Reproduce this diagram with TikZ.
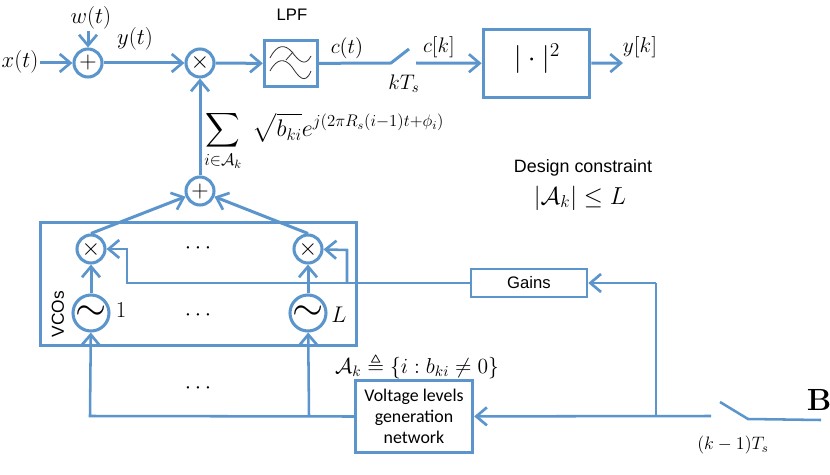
\RequirePackage{fix-cm}
\documentclass[tikz,border=0pt]{standalone}
\usepackage{amsmath,amssymb}
\usepackage[no-math]{fontspec}
\setmainfont{Liberation Sans}
\newfontfamily\calib{Carlito}
\usetikzlibrary{arrows.meta}
\definecolor{bl}{HTML}{5B95CC}
\newcommand{\fs}[1]{\fontsize{#1}{#1}\selectfont}
\tikzset{
 wire/.style={draw=bl,line width=2.25pt,line join=miter},
 thin wire/.style={draw=bl,line width=1.9pt},
 arr/.style={-{Straight Barb[length=8pt,width=13.5pt,line width=2pt]}},
 circ/.style={circle,draw=bl,line width=2.3pt,inner sep=0pt,fill=white},
 opc/.style={circ,minimum size=21pt},
 vco/.style={circ,minimum size=27pt},
 fbox/.style={draw=bl,line width=2.25pt,inner sep=0pt,fill=white},
 tbox/.style={draw=bl,line width=1.9pt,inner sep=0pt,fill=white},
 lab/.style={inner sep=0pt,font=\fs{17}},
}
\begin{document}
\begin{tikzpicture}[x=0.75pt,y=-0.75pt]
\useasboundingbox (0,0) rectangle (830,474);
% VCO frame
\node[fbox,fill=none,minimum width=237pt,minimum height=92.25pt] (frame) at (198,283.5) {};
% ops
\node[opc] (add1) at (88,63) {\fs{18}$+$};
\node[opc] (mix) at (200,63) {\fs{18}$\times$};
\node[opc] (add2) at (200,191) {\fs{18}$+$};
\node[opc] (m1) at (91,249) {\fs{18}$\times$};
\node[opc] (m2) at (308,249) {\fs{18}$\times$};
\node[vco] (v1) at (91,313) {\fs{30}$\sim$};
\node[vco] (v2) at (308,313) {\fs{30}$\sim$};
% boxes
\node[fbox,minimum width=40pt,minimum height=35pt] (lpf) at (291,63.5) {};
\node[fbox,minimum width=80pt,minimum height=51.5pt] (abs) at (536.5,63.5) {};
\node[tbox,minimum width=87pt,minimum height=21pt] (gains) at (529,283) {\fs{12.5}Gains};
\node[fbox,minimum width=88pt,minimum height=53.5pt,align=center,font=\calib\fs{13.4}] (volt) at (414,416.5) {Voltage levels\\[2.5pt]generation\\[2.5pt]network};
% LPF icon
\draw[black!80,line width=0.6pt] (270,58) .. controls (277,44) and (285,44) .. (292,52) .. controls (298,60) and (305,68) .. (311,56);
\draw[black!80,line width=0.6pt] (270,71) .. controls (277,58) and (285,58) .. (292,67) .. controls (298,76) and (305,86) .. (311,71);
\draw[black!80,line width=0.6pt] (286,60) -- (293,52);
% coordinates
\coordinate (xin) at (40,63);
\coordinate (win) at (88,31);
\coordinate (sw1a) at (391,63);
\coordinate (sw1b) at (409,49);
\coordinate (sw1c) at (416,63);
\coordinate (yout) at (623,63);
\coordinate (g1) at (127,283);
\coordinate (g1up) at (127,249);
\coordinate (g2) at (347,283);
\coordinate (g2up) at (347,250);
\coordinate (bj) at (656,416);
\coordinate (bgains) at (656,283);
\coordinate (sw2a) at (711,416);
\coordinate (sw2b) at (720,402);
\coordinate (sw2c) at (748,419);
\coordinate (sw2d) at (821,420);
\coordinate (lo1) at (90,416);
\coordinate (lo2) at (309,416);
% connectors
\draw[wire,arr] (xin) -- (add1);
\draw[wire,arr] (win) -- (add1);
\draw[wire,arr] (add1) -- (mix);
\draw[wire,arr] (mix) -- (lpf);
\draw[wire] (lpf) -- (sw1a) -- (sw1b);
\draw[wire,arr] (sw1c) -- (abs);
\draw[wire,arr] (abs) -- (yout);
\draw[wire,arr] (add2) -- (mix);
\draw[wire,arr] (m1.north) -- (add2);
\draw[wire,arr] (m2.north) -- (add2);
\draw[wire,arr] (v1) -- (m1);
\draw[wire,arr] (v2) -- (m2);
\draw[thin wire,arr] (gains.west) -- (g1) -- (g1up) -- (m1);
\draw[thin wire,arr] (g2) -- (g2up) -- (m2);
\draw[thin wire,arr] (bgains) -- (gains);
\draw[thin wire] (bj) -- (bgains);
\draw[thin wire,arr] (sw2a) -- (volt);
\draw[thin wire] (sw2b) -- (sw2c) -- (sw2d);
\draw[thin wire,arr] (volt.west) -- (lo1) -- (v1);
\draw[thin wire,arr] (lo2) -- (v2);
% math labels
\node[lab] (t1) at (20,62) {$x(t)$};
\node[lab] (t2) at (91,18) {$w(t)$};
\node[lab] (t3) at (135,39) {$y(t)$};
\node[inner sep=0pt,font=\fs{12.5}] (t4) at (292,15) {LPF};
\node[lab,font=\fs{15.8}] (t5) at (347,48) {$c(t)$};
\node[lab,font=\fs{15.8}] (t6) at (404,84) {$kT_s$};
\node[lab,font=\fs{15.8}] (t7) at (439,47) {$c[k]$};
\node[lab,font=\fs{21}] (t8) at (537,59) {$|\cdot|^2$};
\node[lab,font=\fs{16}] (t9) at (640,47) {$y[k]$};
\node[lab,font=\fs{18},anchor=west] (t10) at (204,141) {$\displaystyle\sum_{i\in\mathcal{A}_k}\;\sqrt{b_{ki}}e^{j(2\pi R_s(i-1)t+\phi_i)}$};
\node[inner sep=0pt,font=\fs{13.4}] (t11) at (583,168) {Design constraint};
\node[lab,font=\fs{18.4}] (t12) at (580,198) {$|\mathcal{A}_k|\leq L$};
\node[lab] (t13) at (200,248) {$\cdots$};
\node[lab] (t14) at (200,315) {$\cdots$};
\node[lab] (t15) at (200,388) {$\cdots$};
\node[lab] (t16) at (121,310) {$1$};
\node[lab] (t17) at (339,315) {$L$};
\node[inner sep=0pt,font=\fs{13},rotate=90] (t18) at (58,314) {VCOs};
\node[lab,font=\fs{16.2}] (t19) at (417,366) {$\mathcal{A}_k\triangleq\{i:b_{ki}\neq 0\}$};
\node[lab,font=\fs{23}] (t20) at (819,400) {$\mathbf{B}$};
\node[lab,font=\fs{13.5}] (t21) at (733,445) {$(k-1)T_s$};
\end{tikzpicture}
\end{document}
